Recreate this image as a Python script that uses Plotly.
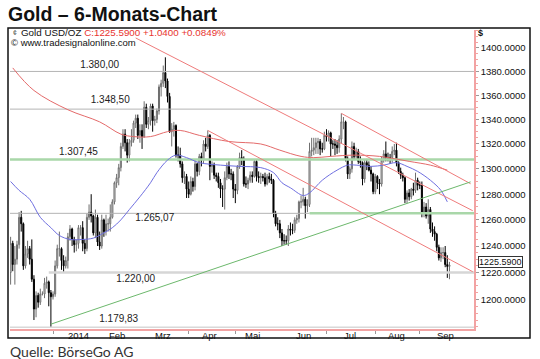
import numpy as np
import pandas as pd
import plotly.graph_objects as go

# ---------------- data ----------------
dates = pd.bdate_range("2013-12-04", "2014-09-19")

opens = [
    # Dec 2013
    1220,1242,1226,1230,1241,1262,1257,1225,1234,1238,1230,1215,1193,1203,1198,1204,1204,1212,1213,1205,
    # Jan
    1202,1204,1225,1238,1238,1229,1225,1229,1247,1253,1245,1241,1242,1254,1254,1242,1238,1262,1266,1263,1250,1262,1243,
    # Feb
    1240,1260,1251,1257,1257,1262,1274,1289,1293,1301,1318,1328,1321,1311,1321,1323,1337,1341,1327,1331,
    # Mar
    1326,1350,1336,1339,1351,1339,1340,1347,1367,1370,1379,1372,1359,1330,1332,1335,1311,1311,1304,1293,1294,
    # Apr
    1284,1280,1290,1286,1304,1298,1310,1307,1320,1318,1327,1302,1303,1295,1294,1289,1284,1284,1293,1302,1296,1296,
    # May
    1284,1283,1302,1309,1308,1288,1288,1291,1295,1294,1306,1294,1293,1294,1293,1288,1294,1292,1291,1265,1257,1257,
    # Jun
    1250,1244,1244,1244,1253,1252,1252,1260,1261,1274,1274,1276,1271,1272,1314,1315,1317,1321,1322,1316,1316,
    # Jul
    1327,1326,1329,1320,1320,1319,1317,1324,1338,1338,1308,1296,1300,1318,1310,1314,1306,1305,1292,1305,1303,1299,1296,
    # Aug
    1282,1294,1289,1288,1307,1312,1309,1309,1309,1314,1315,1305,1298,1295,1293,1276,1281,1278,1284,1283,1291,
    # Sep
    1287,1287,1265,1270,1263,1268,1253,1251,1249,1239,1231,1235,1235,1226,1224.55,
]
highs = [
    1247,1244,1240,1244,1266,1267,1258,1240,1244,1240,1245,1218,1206,1205,1208,1206,1216,1217,1214,1207,
    1206,1229,1241,1251,1239,1233,1232,1250,1256,1254,1247,1245,1256,1256,1259,1245,1265,1272,1280,1264,1268,1264,1251,
    1264,1261,1264,1261,1272,1276,1290,1296,1304,1321,1332,1332,1324,1324,1332,1339,1344,1344,1336,1336,
    1355,1353,1342,1353,1353,1343,1349,1369,1373,1385,1392,1374,1362,1337,1338,1336,1318,1317,1306,1298,1296,
    1290,1294,1293,1307,1305,1312,1313,1323,1325,1331,1328,1306,1305,1297,1297,1292,1287,1298,1305,1306,1300,1298,
    1288,1303,1313,1315,1310,1294,1293,1298,1298,1307,1307,1298,1297,1296,1297,1296,1297,1296,1292,1267,1262,1260,
    1253,1249,1248,1256,1258,1257,1262,1264,1275,1279,1285,1278,1276,1321,1325,1325,1325,1325,1324,1321,1330,
    1332,1331,1330,1323,1324,1323,1327,1345,1342,1339,1310,1302,1322,1321,1317,1316,1310,1306,1307,1308,1306,1302,1297,
    1296,1295,1292,1310,1315,1322,1313,1312,1318,1320,1321,1306,1301,1297,1294,1283,1284,1285,1289,1297,1293,
    1290,1290,1274,1273,1276,1270,1258,1255,1250,1241,1239,1239,1240,1233,1228,
]
lows = [
    1211,1221,1211,1226,1238,1251,1222,1223,1231,1226,1213,1185,1187,1194,1196,1203,1201,1208,1195,1180,
    1200,1202,1223,1232,1222,1220,1223,1223,1244,1240,1235,1236,1238,1248,1236,1234,1236,1260,1258,1248,1246,1240,1237,
    1238,1247,1248,1251,1251,1261,1272,1285,1287,1298,1316,1314,1305,1306,1318,1321,1333,1324,1321,1316,
    1325,1333,1332,1335,1330,1335,1337,1344,1359,1367,1366,1354,1329,1318,1326,1309,1306,1301,1289,1288,1277,
    1277,1279,1282,1283,1294,1295,1302,1304,1314,1316,1291,1297,1292,1290,1285,1277,1270,1268,1291,1292,1291,1277,
    1273,1280,1300,1303,1286,1285,1284,1289,1289,1293,1290,1289,1288,1290,1286,1287,1289,1288,1262,1255,1252,1246,
    1240,1241,1241,1240,1248,1249,1250,1257,1258,1269,1271,1261,1266,1270,1310,1311,1312,1312,1311,1313,1315,
    1322,1322,1310,1316,1311,1312,1313,1320,1332,1306,1292,1292,1297,1307,1308,1304,1301,1287,1289,1299,1298,1290,1280,
    1280,1284,1280,1286,1305,1306,1306,1304,1305,1311,1302,1296,1292,1290,1273,1273,1275,1276,1279,1281,1283,
    1284,1262,1262,1261,1257,1250,1247,1244,1236,1229,1228,1230,1224,1216,1215,
]
closes = [
    1242,1226,1230,1241,1262,1257,1225,1234,1238,1230,1215,1193,1203,1198,1204,1204,1212,1213,1205,1202,
    1204,1225,1238,1238,1229,1225,1229,1247,1253,1245,1241,1242,1254,1254,1242,1238,1262,1266,1263,1250,1262,1243,1240,
    1260,1251,1257,1257,1262,1274,1289,1293,1301,1318,1328,1321,1311,1321,1323,1337,1341,1327,1331,1326,
    1350,1336,1339,1351,1339,1340,1347,1367,1370,1379,1372,1359,1330,1332,1335,1311,1311,1304,1293,1294,1284,
    1280,1290,1286,1304,1298,1310,1307,1320,1318,1327,1302,1303,1295,1294,1289,1284,1284,1293,1302,1296,1296,1284,
    1283,1302,1309,1308,1288,1288,1291,1295,1294,1306,1294,1293,1294,1293,1288,1294,1292,1291,1265,1257,1257,1250,
    1244,1244,1244,1253,1252,1252,1260,1261,1274,1274,1276,1271,1272,1314,1315,1317,1321,1322,1316,1316,1327,
    1326,1329,1320,1320,1319,1317,1324,1338,1338,1308,1296,1300,1318,1310,1314,1306,1305,1292,1305,1303,1299,1296,1282,
    1294,1289,1288,1307,1312,1309,1309,1309,1314,1315,1305,1298,1295,1293,1276,1281,1278,1284,1283,1291,1287,
    1287,1265,1270,1263,1268,1253,1251,1249,1239,1231,1235,1235,1226,1224.55,1225.59,
]

# moving averages
ma50_dates = ["2013-12-04","2013-12-10","2013-12-17","2013-12-24","2013-12-31","2014-01-06","2014-01-13",
              "2014-01-21","2014-01-28","2014-02-04","2014-02-10","2014-02-14","2014-02-20","2014-02-27",
              "2014-03-06","2014-03-11","2014-03-18","2014-03-24","2014-03-31","2014-04-08","2014-04-22",
              "2014-05-05","2014-05-19","2014-05-27","2014-06-02","2014-06-06","2014-06-16","2014-06-19",
              "2014-06-27","2014-07-08","2014-07-15","2014-07-21","2014-07-30","2014-08-07","2014-08-15",
              "2014-08-22","2014-08-29","2014-09-08","2014-09-15","2014-09-18"]
ma50_vals = [1290,1283,1276,1262,1254,1248,1245,1245,1246,1250,1254,1260,1268,1278,1289,1297,1307,1311,
             1309,1305,1303,1302,1301,1297,1289,1285,1279,1281,1291,1299,1303,1303,1302,1303,1305,1302,
             1298,1291,1283,1274]
ma200_dates = ["2013-12-05","2013-12-19","2014-01-10","2014-01-31","2014-02-14","2014-02-24","2014-03-06",
               "2014-03-18","2014-03-26","2014-04-08","2014-04-28","2014-05-19","2014-05-30","2014-06-13",
               "2014-06-23","2014-07-03","2014-07-18","2014-08-05","2014-08-25","2014-09-08","2014-09-18"]
ma200_vals = [1383,1364,1348,1338,1328,1326,1326,1330,1331,1327,1322,1320,1315,1310,1309,1310,1311,1310,
              1306,1303,1299]

# horizontal levels
level_values = [1380.00, 1348.50, 1307.45, 1265.07, 1220.00, 1179.83]
level_labels = ["1.380,00", "1.348,50", "1.307,45", "1.265,07", "1.220,00", "1.179,83"]
level_label_dates = ["2014-01-31", "2014-02-07", "2014-01-17", "2014-03-10", "2014-02-25", "2014-02-13"]
level_label_prices = [1385.0, 1355.5, 1313.1, 1260.8, 1214.6, 1185.2]

# trend lines (date, price) pairs
trend_red_a = (["2014-02-25", "2014-10-06"], [1408.6, 1267.1])
trend_red_b = (["2014-07-10", "2014-10-03"], [1345.0, 1288.2])
trend_red_c = (["2014-04-14", "2014-10-06"], [1331.0, 1220.6])
trend_green = (["2013-12-31", "2014-10-03"], [1182.0, 1289.7])

month_ticks = ["2014-01-01","2014-02-01","2014-03-01","2014-04-01","2014-05-01",
               "2014-06-01","2014-07-01","2014-08-01","2014-09-01"]
month_labels = ["2014","Feb","Mrz","Apr","Mai","Jun","Jul","Aug","Sep"]
month_label_dates = ["2014-01-17","2014-02-12","2014-03-14","2014-04-15","2014-05-13",
                     "2014-06-16","2014-07-16","2014-08-15","2014-09-17"]

y_ticks = [1200, 1220, 1240, 1260, 1280, 1300, 1320, 1340, 1360, 1380, 1400]

X_START = "2013-12-03 17:00"
X_END = "2014-10-06 14:00"

FONT = "Liberation Sans, Arial, sans-serif"
GREY = "#b4b4b4"
GREEN = "#a9d7a9"
RED = "#ef7b7b"

fig = go.Figure()

# level lines
def hline(x0, x1, y, color, width):
    fig.add_trace(go.Scatter(x=[x0, x1], y=[y, y], mode="lines",
                             line=dict(color=color, width=width), hoverinfo="skip", showlegend=False))

hline(X_START, X_END, level_values[0], GREY, 1)
hline(X_START, X_END, level_values[1], GREY, 1)
hline(X_START, X_END, level_values[2], GREEN, 2.5)
hline(X_START, "2014-06-19", level_values[3], GREY, 1)
hline("2014-06-19", X_END, level_values[3], GREEN, 2.5)
hline("2013-12-30", X_END, level_values[4], "#d6d6d6", 2.5)
hline(X_START, X_END, level_values[5], "#d8d8d8", 1.5)

# moving averages
fig.add_trace(go.Scatter(x=ma200_dates, y=ma200_vals, mode="lines", line=dict(color="#e46a6a", width=1, shape="spline"),
                         hoverinfo="skip", showlegend=False))
fig.add_trace(go.Scatter(x=ma50_dates, y=ma50_vals, mode="lines", line=dict(color="#6f6fe0", width=1, shape="spline"),
                         hoverinfo="skip", showlegend=False))

# trend lines
for (xs, ys), col in [(trend_red_a, RED), (trend_red_b, RED), (trend_red_c, RED), (trend_green, "#6cb86c")]:
    fig.add_trace(go.Scatter(x=xs, y=ys, mode="lines", line=dict(color=col, width=1),
                             hoverinfo="skip", showlegend=False))

# level labels
fig.add_trace(go.Scatter(x=level_label_dates, y=level_label_prices, mode="text", text=level_labels,
                         textposition="middle center", textfont=dict(family=FONT, size=10, color="#222"),
                         hoverinfo="skip", showlegend=False))

# candles
fig.add_trace(go.Candlestick(x=dates, open=opens, high=highs, low=lows, close=closes,
                             increasing=dict(line=dict(color="#6e6e6e", width=1), fillcolor="#ffffff"),
                             decreasing=dict(line=dict(color="#000000", width=1), fillcolor="#000000"),
                             whiskerwidth=0, showlegend=False, hoverinfo="skip"))

L, R, T, B = 10, 66, 30, 30
W, H = 540, 359
pw, ph = W - L - R, H - T - B

def px(xp):
    return (xp - L) / pw

def py(yp):
    return (H - B - yp) / ph

fig.update_layout(
    width=W, height=H, margin=dict(l=L, r=R, t=T, b=B),
    paper_bgcolor="white", plot_bgcolor="white",
    font=dict(family=FONT, size=10, color="#111"),
    title=dict(text="<b>Gold – 6-Monats-Chart</b>", x=8 / W, xanchor="left", y=1 - 14 / H, yanchor="middle",
               font=dict(family=FONT, size=19.5, color="#111")),
    xaxis=dict(type="date", range=[X_START, X_END], rangebreaks=[dict(bounds=["sat", "mon"])],
               showgrid=False, zeroline=False, showline=True, linecolor="#f2a3a3", linewidth=1.5,
               ticks="outside", ticklen=3, tickcolor="#999", tickvals=month_ticks,
               ticktext=[""] * len(month_ticks), rangeslider=dict(visible=False), fixedrange=True),
    yaxis=dict(type="log", side="right", range=[np.log10(1178.5), np.log10(1415.5)],
               showgrid=False, zeroline=False, showline=True, linecolor="#f2a3a3", linewidth=1.5,
               ticks="outside", ticklen=3, tickcolor="#999",
               tickvals=y_ticks, ticktext=[f"{v}.0000" for v in y_ticks],
               tickfont=dict(family=FONT, size=9.5, color="#111"),
               minor=dict(ticks="outside", ticklen=2, tickcolor="#f2a3a3",
                          tickvals=list(range(1180, 1416, 5))), fixedrange=True),
    showlegend=False,
)

ann = []
for d, t in zip(month_label_dates, month_labels):
    ann.append(dict(x=d, y=py(335), xref="x", yref="paper", text=t, showarrow=False,
                    xanchor="center", yanchor="middle", font=dict(family=FONT, size=9.5, color="#111")))
ann.append(dict(x=px(20), y=py(32.5), xref="paper", yref="paper", xanchor="left", yanchor="middle", showarrow=False,
                text="Gold USD/OZ <span style='color:#e8342f'>C:1225.5900 +1.0400 +0.0849%</span>",
                font=dict(family=FONT, size=9.8, color="#111"), borderpad=0))
ann.append(dict(x=px(12), y=py(32.5), xref="paper", yref="paper", xanchor="left", yanchor="middle", showarrow=False,
                text="¢", font=dict(family=FONT, size=7, color="#444"), borderpad=0))
ann.append(dict(x=px(10), y=py(43), xref="paper", yref="paper", xanchor="left", yanchor="middle", showarrow=False,
                text="© www.tradesignalonline.com", font=dict(family=FONT, size=9.5, color="#111"), borderpad=0))
ann.append(dict(x=px(476), y=py(33), xref="paper", yref="paper", xanchor="left", yanchor="middle", showarrow=False,
                text="<b>$</b>", font=dict(family=FONT, size=9, color="#111")))
ann.append(dict(x=px(478), y=py(262), xref="paper", yref="paper", xanchor="left", yanchor="middle", showarrow=False,
                text="1225.5900", bgcolor="white", bordercolor="#333", borderwidth=1, borderpad=0,
                font=dict(family=FONT, size=9, color="#111")))
ann.append(dict(x=px(8), y=py(351), xref="paper", yref="paper", xanchor="left", yanchor="middle",
                showarrow=False, text="Quelle: BörseGo AG", font=dict(family="Lato, sans-serif", size=14, color="#333")))
fig.update_layout(annotations=ann)

# outer frame
fig.add_shape(type="rect", xref="paper", yref="paper", x0=px(8), x1=px(530), y0=py(338), y1=py(28),
              line=dict(color="#111", width=1.5), fillcolor="rgba(0,0,0,0)", layer="above")

fig.write_html("out.html", config={"displayModeBar": False},
               post_script="document.body.style.margin='0px';")
